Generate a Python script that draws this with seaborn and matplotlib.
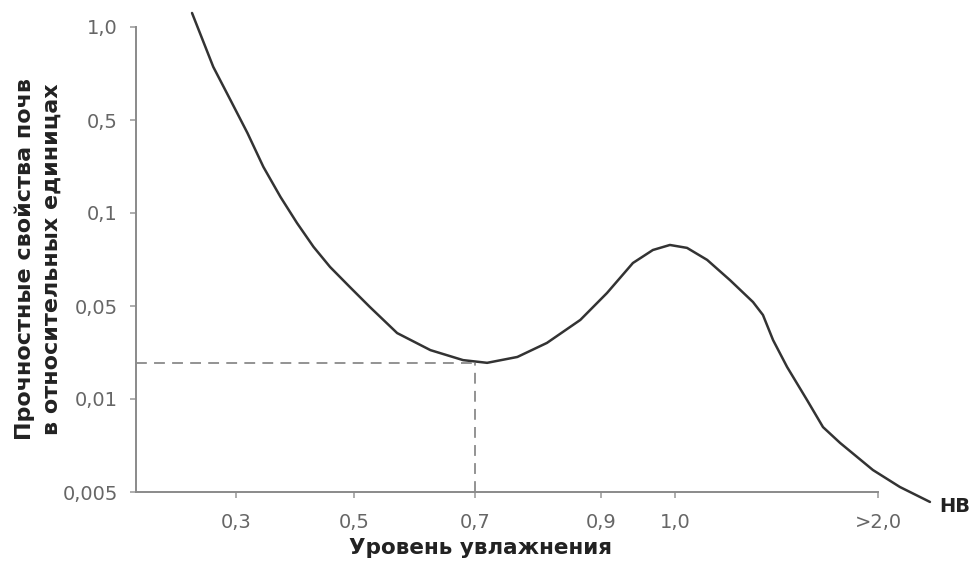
import numpy as np
import pandas as pd
import matplotlib
matplotlib.use("Agg")
import matplotlib.pyplot as plt
import seaborn as sns

sns.set_theme(style="white")
plt.rcParams["font.family"] = ["DejaVu Sans"]

# --- data --------------------------------------------------------------------
moisture = [0.225, 0.261, 0.290, 0.319, 0.346, 0.375, 0.403, 0.431, 0.459,
            0.493, 0.526, 0.571, 0.626, 0.680, 0.719, 0.767, 0.814, 0.867,
            0.908, 0.943, 0.970, 0.993, 1.059, 1.158, 1.271, 1.384, 1.433,
            1.483, 1.552, 1.650, 1.729, 1.813, 1.975, 2.108, 2.256]
strength = [1.11, 0.743, 0.581, 0.399, 0.222, 0.132, 0.0928, 0.0777, 0.0669,
            0.0575, 0.0491, 0.0313, 0.0233, 0.0196, 0.0187, 0.0207, 0.0264,
            0.0393, 0.0551, 0.0689, 0.0759, 0.0788, 0.0771, 0.0705, 0.0606,
            0.0515, 0.0428, 0.0277, 0.0174, 0.00993, 0.00811, 0.00721,
            0.00589, 0.00519, 0.00421]

x_ticks = [0.3, 0.5, 0.7, 0.9, 1.0, 2.0]
x_tick_labels = ["0,3", "0,5", "0,7", "0,9", "1,0", ">2,0"]
y_ticks = [0.005, 0.01, 0.05, 0.1, 0.5, 1.0]
y_tick_labels = ["0,005", "0,01", "0,05", "0,1", "0,5", "1,0"]

min_x = 0.7
min_y = 0.0187

# --- uneven axis scales of the original drawing ------------------------------
# x: tick positions are not proportional to the values
x_vals = np.array([0.1, 0.3, 0.5, 0.7, 0.9, 1.0, 2.0, 3.0])
x_pos = np.array([118, 236, 354, 475, 601, 675, 878, 1081], dtype=float)

def fx(v):
    return np.interp(v, x_vals, x_pos)

def ix(p):
    return np.interp(p, x_pos, x_vals)

# y: the tick levels are drawn equally spaced
y_logs = np.log10([0.001, 0.005, 0.01, 0.05, 0.1, 0.5, 1.0, 2.0])
y_pos = np.arange(-1, 7, dtype=float)

def fy(v):
    v = np.clip(np.asarray(v, dtype=float), 1e-6, None)
    return np.interp(np.log10(v), y_logs, y_pos)

def iy(p):
    return 10 ** np.interp(p, y_pos, y_logs)


df = pd.DataFrame({"moisture": moisture, "strength": strength})

fig = plt.figure(figsize=(9.72, 5.69), dpi=100)
ax = fig.add_axes([136 / 972, 1 - 492 / 569, (878 - 136) / 972, (492 - 27) / 569])
ax.set_xscale("function", functions=(fx, ix))
ax.set_yscale("function", functions=(fy, iy))

sns.lineplot(data=df, x="moisture", y="strength", sort=False, ax=ax,
             color="#333333", linewidth=1.8, clip_on=False)

# dashed guide lines to the minimum
grey = "#8a8a8a"
ax.plot([0.13, min_x], [min_y, min_y], ls=(0, (6, 4)), color=grey, lw=1.3)
ax.plot([min_x, min_x], [0.005, min_y], ls=(0, (6, 4)), color=grey, lw=1.3)

ax.set_xlim(0.13, 2.0)
ax.set_ylim(0.005, 1.0)

ax.set_xticks(x_ticks)
ax.set_xticklabels(x_tick_labels)
ax.set_yticks(y_ticks)
ax.set_yticklabels(y_tick_labels)
ax.minorticks_off()
ax.tick_params(axis="both", which="major", bottom=True, left=True,
               length=4, width=1.2, color="#a0a0a0",
               labelcolor="#666666", labelsize=14, direction="out")
ax.tick_params(axis="x", pad=11)
ax.tick_params(axis="y", pad=9)

for side in ["top", "right"]:
    ax.spines[side].set_visible(False)
for side in ["left", "bottom"]:
    ax.spines[side].set_color(grey)
    ax.spines[side].set_linewidth(1.4)

ax.set_xlabel("Уровень увлажнения", fontsize=15.5, fontweight="bold", color="#222222")
ax.xaxis.set_label_coords((480 - 136) / (878 - 136), -0.098)
ax.set_ylabel("Прочностные свойства почв\nв относительных единицах",
              fontsize=16, fontweight="bold", color="#222222", linespacing=1.4)
ax.yaxis.set_label_coords(-0.100, 0.50)

fig.text(955 / 972, 1 - 506 / 569, "НВ", fontsize=14, fontweight="bold",
         color="#222222", ha="center", va="center")

fig.savefig("out.png", dpi=100)
